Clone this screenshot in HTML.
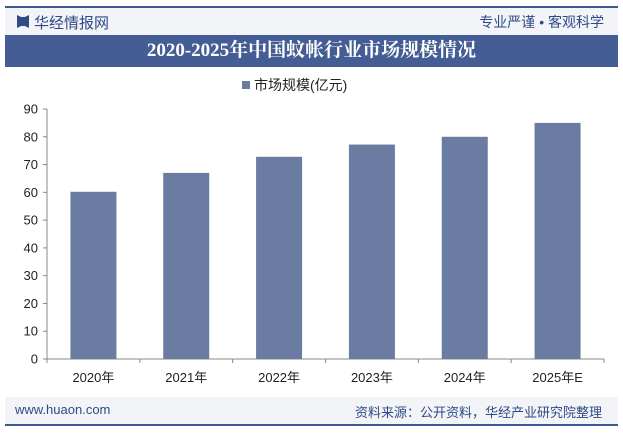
<!DOCTYPE html>
<html><head><meta charset="utf-8"><style>
body{margin:0;width:623px;height:434px;background:#fff;font-family:"Liberation Sans","Noto Sans CJK SC",sans-serif;position:relative;overflow:hidden}
.a{position:absolute}
</style></head><body>
<div class="a" style="left:5px;top:6px;width:613px;height:2px;background:#3e5891"></div>
<div class="a" style="left:5px;top:8px;width:613px;height:27px;background:#f2f4f8"></div>
<div class="a" style="left:17px;top:15px;width:12px;height:13px;background:#2f4a85;clip-path:polygon(0 0,35% 15%,65% 15%,100% 0,100% 100%,65% 85%,35% 85%,0 100%)"></div>
<div class="a" style="left:34px;top:12px;font-size:15px;color:#2f4a85">华经情报网</div>
<div class="a" style="right:19px;top:12px;font-size:14px;color:#2f4a85">专业严谨 • 客观科学</div>
<div class="a" style="left:5px;top:35px;width:613px;height:32px;background:#445d94;color:#fff;font-size:19px;font-weight:bold;text-align:center;line-height:32px;font-family:'Liberation Serif','Noto Serif CJK SC',serif">2020-2025年中国蚊帐行业市场规模情况</div>
<svg class="a" style="left:0;top:0" width="623" height="434">
<g id="g"></g>
</svg>
<div class="a" style="left:5px;top:397px;width:613px;height:27px;background:#f2f4f8"></div>
<div class="a" style="left:15px;top:402px;font-size:13px;color:#2f4a85">www.huaon.com</div>
<div class="a" style="right:21px;top:402px;font-size:13px;color:#2f4a85">资料来源：公开资料，华经产业研究院整理</div>
<div class="a" style="left:5px;top:424px;width:613px;height:2px;background:#3e5891"></div>
<script>
const categories=["2020年","2021年","2022年","2023年","2024年","2025年E"];
const values=[60.2,67,72.8,77.2,80,85];
const ticks=[0,10,20,30,40,50,60,70,80,90];
const ns="http://www.w3.org/2000/svg",g=document.getElementById('g');
const x0=47,x1=604,y0=359,yTop=109,max=90;
const y=v=>y0-(y0-yTop)*v/max,bw=(x1-x0)/categories.length;
function mk(t,a,txt){const e=document.createElementNS(ns,t);for(const k in a)e.setAttribute(k,a[k]);if(txt!=null)e.textContent=txt;g.appendChild(e);return e;}
let e=mk('rect',{x:242,y:81,width:8,height:8,fill:'#6a7ca1'});

e=mk('text',{x:254,y:90,'font-size':14,fill:'#222'},'市场规模(亿元)');

e=mk('line',{x1:x0,y1:yTop,x2:x0,y2:y0,stroke:'#888'});

e=mk('line',{x1:x0,y1:y0,x2:x1,y2:y0,stroke:'#888'});

ticks.forEach(t=>{
 e=mk('line',{x1:x0-4,y1:y(t),x2:x0,y2:y(t),stroke:'#888'});
 
 e=mk('text',{x:x0-9,y:y(t)+4.5,'font-size':13,fill:'#222','text-anchor':'end'},t);
 
});
for(let i=0;i<=categories.length;i++){e=mk('line',{x1:x0+i*bw,y1:y0,x2:x0+i*bw,y2:y0+4,stroke:'#888'});
 }
categories.forEach((c,i)=>{
 const cx=x0+bw*(i+0.5);
 e=mk('rect',{x:cx-23,y:y(values[i]),width:46,height:y0-y(values[i]),fill:'#6a7ca1'});
 
 e=mk('text',{x:cx,y:y0+23,'font-size':13,fill:'#222','text-anchor':'middle'},c);
 
});
</script>
</body></html>
